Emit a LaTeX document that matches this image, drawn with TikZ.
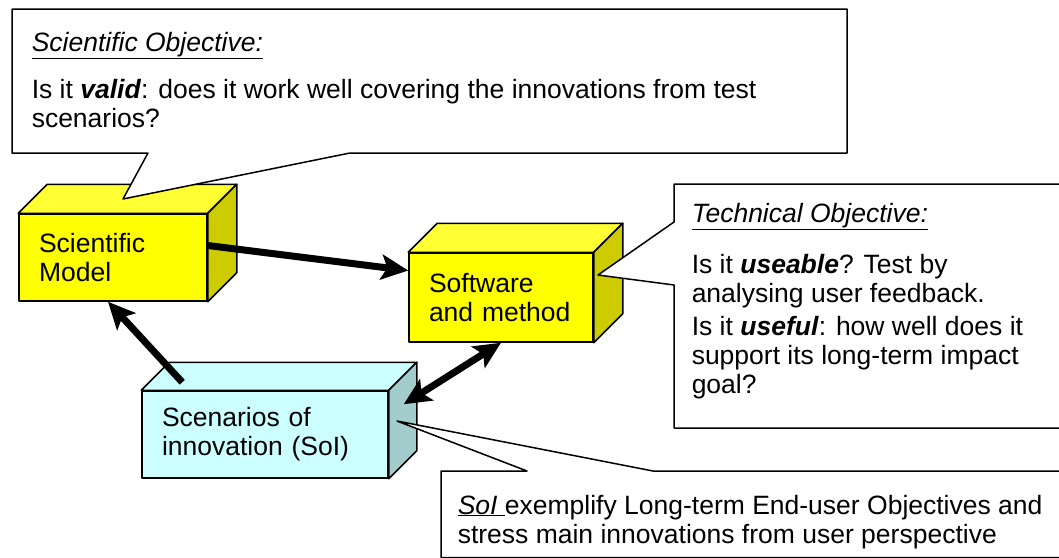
\documentclass[tikz,border=0pt]{standalone}
\usepackage{fontspec}
\setmainfont{Liberation Sans}
\usetikzlibrary{arrows.meta}
\definecolor{lemon}{RGB}{255, 255, 0}
\definecolor{lemontop}{RGB}{255, 255, 51}
\definecolor{lemonside}{RGB}{204, 204, 0}
\definecolor{frost}{RGB}{204, 255, 255}
\definecolor{frostside}{RGB}{163, 204, 204}

\begin{document}
\begin{tikzpicture}[x=1pt, y=-1pt, line width=1.5pt, line join=round,
    face/.style={draw=black},
    cube/.style={face, inner xsep=20pt, inner ysep=0pt, align=left, font=\fontsize{26.5}{29}\selectfont},
    txt/.style={anchor=base west, inner sep=0pt, align=left, font=\fontsize{26.5}{29}\selectfont},
    bubble/.style={draw=black, fill=white},
    bigtip/.tip={Stealth[length=27pt, width=25pt, inset=6pt]},
    arr/.style={line width=7pt, -{bigtip}}]
            \clip (0,0) rectangle (1059,557);
            % front faces
            \node[cube, fill=lemon, text width=148pt, minimum height=87pt] (sci) at (113.0,257.5) {Scientific\\Model};
            \node[cube, fill=lemon, text width=144pt, minimum height=89pt] (sw)  at (501.0,297.5) {Software\\and method};
            \node[cube, fill=frost, text width=206pt, minimum height=87pt] (sce) at (265.0,434.5) {Scenarios of\\innovation (SoI)};
            % top and side faces
            \filldraw[face, fill=lemontop]  (sci.north west) -- ++(29,-29) -- ([shift={(29,-29)}]sci.north east) -- (sci.north east) -- cycle;
            \filldraw[face, fill=lemonside] (sci.north east) -- ++(29,-29) -- ([shift={(29,-29)}]sci.south east) -- (sci.south east) -- cycle;
            \filldraw[face, fill=lemontop]  (sw.north west)  -- ++(29,-29) -- ([shift={(29,-29)}]sw.north east)  -- (sw.north east)  -- cycle;
            \filldraw[face, fill=lemonside] (sw.north east)  -- ++(29,-29) -- ([shift={(29,-29)}]sw.south east)  -- (sw.south east)  -- cycle;
            \filldraw[face, fill=frost]     (sce.north west) -- ++(28,-28) -- ([shift={(28,-28)}]sce.north east) -- (sce.north east) -- cycle;
            \filldraw[face, fill=frostside] (sce.north east) -- ++(28,-28) -- ([shift={(28,-28)}]sce.south east) -- (sce.south east) -- cycle;
            % callouts
            \filldraw[bubble] (12,9) -- (847,9) -- (847,153) -- (350,153) -- (123,199) -- (148,153) -- (12,153) -- cycle;
            \filldraw[bubble] (1070,184) -- (674,184) -- (674,222) -- (598,275) -- (674,285) -- (674,428) -- (1070,428) -- cycle;
            \filldraw[bubble] (441,471) -- (527,471) -- (397,421) -- (653,471) -- (1070,471) -- (1070,557.5) -- (441,557.5) -- cycle;
            % texts, placed by the baseline of their last line
            \node[txt] (sciobj)  at (31,51)   {\underline{\textit{Scientific Objective:}}};
            \node[txt] (valid)   at (31,127)  {Is it \textbf{\textit{valid}}: does it work well covering the innovations from test\\scenarios?};
            \node[txt] (techobj) at (691,222) {\underline{\textit{Technical Objective:}}};
            \node[txt] (useable) at (691,302) {Is it \textbf{\textit{useable}}? Test by\\analysing user feedback.};
            \node[txt] (useful)  at (691,393) {Is it \textbf{\textit{useful}}: how well does it\\support its long-term impact\\goal?};
            \node[txt] (soi)     at (457,543) {\underline{\textit{SoI} }exemplify Long-term End-user Objectives and\\stress main innovations from user perspective};
            % arrows
            \draw[arr] ([shift={(0,-12)}]sci.east) -- ([shift={(0,-27)}]sw.west);
            \draw[arr] ([shift={(41,-8)}]sce.north west) -- ([shift={(-5,0)}]sci.south);
            \draw[arr, {bigtip}-{bigtip}] ([shift={(15,14)}]sce.north east) -- (sw.south);
\end{tikzpicture}
\end{document}
